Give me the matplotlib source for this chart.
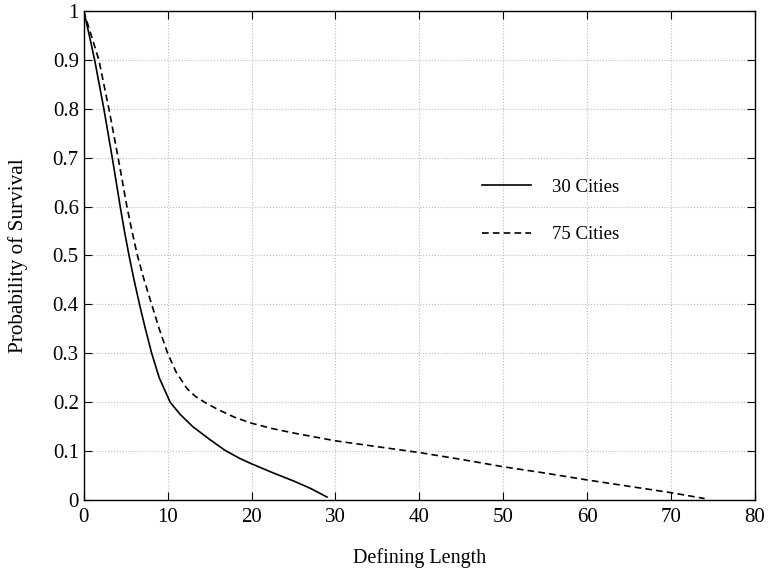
import numpy as np
import matplotlib
matplotlib.use('Agg')
import matplotlib.pyplot as plt

# data
len_30 = [0, 0.6, 1.3, 2.4, 3.4, 4.35, 4.85, 5.4, 6.0, 6.65, 7.35, 8.1, 9.0, 10.3, 11.5,
          13.0, 15.0, 16.8, 18.6, 20.0, 22.5, 25.0, 27.0, 29.0]
surv_30 = [1.0, 0.955, 0.9, 0.8, 0.7, 0.6, 0.55, 0.5, 0.45, 0.4, 0.35, 0.3, 0.25, 0.2, 0.175,
           0.15, 0.124, 0.102, 0.085, 0.074, 0.056, 0.039, 0.024, 0.006]

len_75 = [0, 0.9, 1.8, 3.0, 4.1, 5.15, 5.75, 6.4, 7.2, 8.1, 9.0, 10.0, 11.0, 12.3, 13.3, 14.5,
          16.0, 18.0, 20.0, 22.5, 25.0, 30.0, 35.0, 40.0, 45.0, 50.0, 55.0, 60.0, 65.0, 70.0, 74.0]
surv_75 = [1.0, 0.95, 0.9, 0.8, 0.7, 0.6, 0.55, 0.5, 0.45, 0.4, 0.35, 0.3, 0.262, 0.228, 0.212, 0.199,
           0.185, 0.169, 0.157, 0.146, 0.137, 0.121, 0.109, 0.097, 0.083, 0.068, 0.055, 0.041,
           0.028, 0.015, 0.003]

x_ticks = [0, 10, 20, 30, 40, 50, 60, 70, 80]
y_ticks = [0, 0.1, 0.2, 0.3, 0.4, 0.5, 0.6, 0.7, 0.8, 0.9, 1]
y_labels = ['0', '0.1', '0.2', '0.3', '0.4', '0.5', '0.6', '0.7', '0.8', '0.9', '1']

plt.rcParams['font.family'] = ['Liberation Serif', 'DejaVu Serif']
plt.rcParams['font.size'] = 13.5

fig = plt.figure(figsize=(7.68, 5.70), dpi=100)
ax = fig.add_axes([0.109, 0.1228, 0.874, 0.858])

ax.plot(len_30, surv_30, color='black', lw=1.2, label='30 Cities')
ax.plot(len_75, surv_75, color='black', lw=1.2, ls=(0, (4, 2.5)), label='75 Cities')

ax.set_xlim(0, 80)
ax.set_ylim(0, 1)
ax.set_xticks(x_ticks)
ax.set_yticks(y_ticks)
ax.set_yticklabels(y_labels)
ax.tick_params(direction='in', length=6, top=True, right=True, labelsize=15)
ax.tick_params(axis='x', pad=6)
ax.grid(True, color='#bbbbbb', ls=':', lw=0.8)

ax.set_xlabel('Defining Length', fontsize=14.5, labelpad=15)
ax.set_ylabel('Probability of Survival', fontsize=15.3, labelpad=18)

leg = ax.legend(loc='center left', bbox_to_anchor=(0.594, 0.591), frameon=False,
                handlelength=2.6, handletextpad=1.1, labelspacing=1.6,
                borderpad=0, borderaxespad=0, fontsize=13.5)

for s in ax.spines.values():
    s.set_linewidth(1.0)

fig.savefig('out.png', dpi=100)
